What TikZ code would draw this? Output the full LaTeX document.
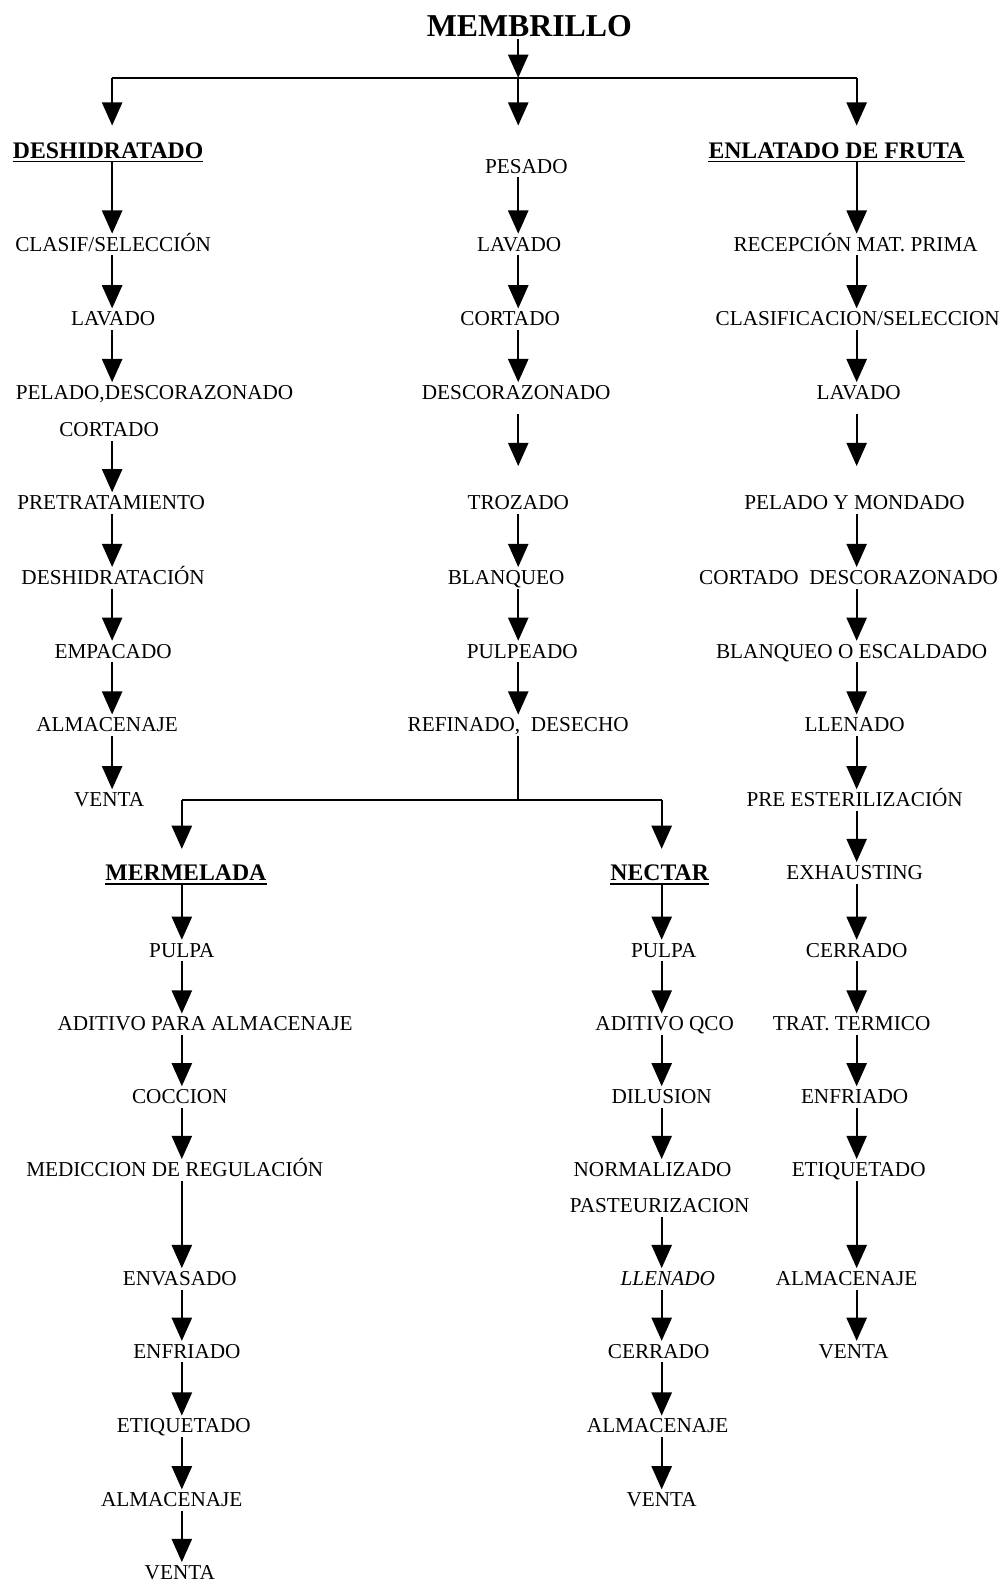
\documentclass[tikz,border=0pt]{standalone}
\usepackage{fontspec}
\setmainfont{Liberation Serif}
\usetikzlibrary{arrows.meta}
\begin{document}
\begin{tikzpicture}[x=1pt, y=-1pt,
  pa/.style={inner sep=3pt, text height=14pt, text depth=1pt, font=\fontsize{21}{25}\selectfont},
  ti/.style={inner xsep=0pt, inner ysep=3pt, text height=16pt, text depth=1pt, font=\fontsize{23.5}{28}\selectfont\bfseries},
  fl/.style={line width=2pt, -{Triangle[width=20pt,length=23pt]}},
  ln/.style={line width=2pt},
  sub/.style={line width=1.6pt}]
\useasboundingbox (0,0) rectangle (995,1568);
% columnas
\coordinate (cA) at (111,0);
\coordinate (cB) at (513,0);
\coordinate (cC) at (848,0);
\coordinate (cD) at (180,0);
\coordinate (cE) at (655,0);
\coordinate (r1) at (513,77);
\coordinate (r3) at (513,792);
% cabecera
\node[inner sep=2pt, font=\fontsize{31.5}{36}\selectfont\bfseries] (mem) at (524,26) {MEMBRILLO};
\draw[fl] (mem.south -| cB) -- (r1);
\draw[ln] (r1 -| cA) -- (r1 -| cC);
% deshidratado
\node[ti] (des) at (107,149) {DESHIDRATADO};
\node[pa] (d1) at (112,242) {CLASIF/SELECCIÓN};
\node[pa] (d2) at (112,316) {LAVADO};
\node[pa] (d3) at (153,389) {PELADO,DESCORAZONADO};
\node[pa] (d3b) at (108,426) {CORTADO};
\node[pa] (d4) at (110,498) {PRETRATAMIENTO};
\node[pa] (d5) at (112,572) {DESHIDRATACIÓN};
\node[pa] (d6) at (112,645) {EMPACADO};
\node[pa] (d7) at (106,718) {ALMACENAJE};
\node[pa] (d8) at (108,792) {VENTA};
% linea central
\node[pa] (c1) at (521,165) {PESADO};
\node[pa] (c2) at (514,242) {LAVADO};
\node[pa] (c3) at (505,316) {CORTADO};
\node[pa] (c4) at (511,389) {DESCORAZONADO};
\node[pa] (c5) at (513,498) {TROZADO};
\node[pa] (c6) at (501,572) {BLANQUEO};
\node[pa] (c7) at (517,645) {PULPEADO};
\node[pa] (c8) at (513,718) {REFINADO,\ \ DESECHO};
% enlatado
\node[ti] (enl) at (828,149) {ENLATADO DE FRUTA};
\node[pa] (e1) at (847,242) {RECEPCIÓN MAT. PRIMA};
\node[pa] (e2) at (849,316) {CLASIFICACION/SELECCION};
\node[pa] (e3) at (850,389) {LAVADO};
\node[pa] (e4) at (846,498) {PELADO Y MONDADO};
\node[pa] (e5) at (840,572) {CORTADO\ \ DESCORAZONADO};
\node[pa] (e6) at (843,645) {BLANQUEO O ESCALDADO};
\node[pa] (e7) at (846,718) {LLENADO};
\node[pa] (e8) at (846,792) {PRE ESTERILIZACIÓN};
\node[pa] (e9) at (846,864) {EXHAUSTING};
\node[pa] (e10) at (848,941) {CERRADO};
\node[pa] (e11) at (843,1014) {TRAT. TERMICO};
\node[pa] (e12) at (846,1086) {ENFRIADO};
\node[pa] (e13) at (850,1158) {ETIQUETADO};
\node[pa] (e14) at (838,1266) {ALMACENAJE};
\node[pa] (e15) at (845,1338) {VENTA};
% mermelada
\node[ti] (mer) at (184,864) {MERMELADA};
\node[pa] (m1) at (180,941) {PULPA};
\node[pa] (m2) at (203,1014) {ADITIVO PARA ALMACENAJE};
\node[pa] (m3) at (178,1086) {COCCION};
\node[pa] (m4) at (173,1158) {MEDICCION DE REGULACIÓN};
\node[pa] (m5) at (178,1266) {ENVASADO};
\node[pa] (m6) at (185,1338) {ENFRIADO};
\node[pa] (m7) at (182,1412) {ETIQUETADO};
\node[pa] (m8) at (170,1485) {ALMACENAJE};
\node[pa] (m9) at (178,1557) {VENTA};
% nectar
\node[ti] (nec) at (653,864) {NECTAR};
\node[pa] (n1) at (657,941) {PULPA};
\node[pa] (n2) at (658,1014) {ADITIVO QCO};
\node[pa] (n3) at (655,1086) {DILUSION};
\node[pa] (n4) at (646,1158) {NORMALIZADO};
\node[pa] (n4b) at (653,1194) {PASTEURIZACION};
\node[pa, font=\fontsize{21}{25}\selectfont\itshape] (n5) at (661,1266) {LLENADO};
\node[pa] (n6) at (652,1338) {CERRADO};
\node[pa] (n7) at (651,1412) {ALMACENAJE};
\node[pa] (n8) at (655,1485) {VENTA};
% subrayados
\foreach \t in {des,enl,mer,nec}
  \draw[sub] ([yshift=-3.5pt]\t.base west) -- ([yshift=-3.5pt]\t.base east);
% ramas
\draw[fl, shorten >=13pt] (r1 -| cA) -- (des.north -| cA);
\draw[fl, shorten >=30pt] (r1) -- (c1.north -| cB);
\draw[fl, shorten >=13pt] (r1 -| cC) -- (enl.north -| cC);
\draw[ln] (c8.south -| cB) -- (r3);
\draw[ln] (r3 -| cD) -- (r3 -| cE);
\draw[fl, shorten >=12pt] (r3 -| cD) -- (mer.north -| cD);
\draw[fl, shorten >=12pt] (r3 -| cE) -- (nec.north -| cE);
% flechas
\foreach \a/\b in {des/d1, d1/d2, d2/d3, d3b/d4, d4/d5, d5/d6, d6/d7, d7/d8}
  \draw[fl] (\a.south -| cA) -- (\b.north -| cA);
\foreach \a/\b in {c1/c2, c2/c3, c3/c4, c5/c6, c6/c7, c7/c8}
  \draw[fl] (\a.south -| cB) -- (\b.north -| cB);
\draw[fl, shorten <=10pt, shorten >=26pt] (c4.south -| cB) -- (c5.north -| cB);
\foreach \a/\b in {enl/e1, e1/e2, e2/e3, e4/e5, e5/e6, e6/e7, e7/e8, e8/e9, e9/e10, e10/e11, e11/e12, e12/e13, e13/e14, e14/e15}
  \draw[fl] (\a.south -| cC) -- (\b.north -| cC);
\draw[fl, shorten <=10pt, shorten >=26pt] (e3.south -| cC) -- (e4.north -| cC);
\foreach \a/\b in {mer/m1, m1/m2, m2/m3, m3/m4, m4/m5, m5/m6, m6/m7, m7/m8, m8/m9}
  \draw[fl] (\a.south -| cD) -- (\b.north -| cD);
\foreach \a/\b in {nec/n1, n1/n2, n2/n3, n3/n4, n4b/n5, n5/n6, n6/n7, n7/n8}
  \draw[fl] (\a.south -| cE) -- (\b.north -| cE);
\end{tikzpicture}
\end{document}
